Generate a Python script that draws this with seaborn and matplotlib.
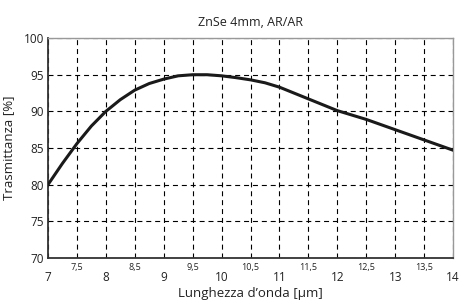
import matplotlib

matplotlib.use("Agg")

import matplotlib.pyplot as plt
import matplotlib.ticker as mticker
import pandas as pd
import seaborn as sns

# Transmission curve (ZnSe 4 mm, AR/AR coated)
wavelength_um = [7.0, 7.25, 7.5, 7.75, 8.0, 8.25, 8.5, 8.75, 9.0, 9.25, 9.5, 9.75,
                 10.0, 10.25, 10.5, 10.75, 11.0, 11.25, 11.5, 11.75, 12.0, 12.25,
                 12.5, 12.75, 13.0, 13.25, 13.5, 13.75, 14.0]
transmittance = [80.0, 82.9, 85.6, 88.0, 90.0, 91.6, 92.9, 93.8, 94.4, 94.85, 95.0, 95.0,
                 94.85, 94.6, 94.3, 93.9, 93.3, 92.5, 91.7, 90.9, 90.1, 89.5,
                 88.9, 88.2, 87.5, 86.8, 86.1, 85.4, 84.7]
y_ticks = [70, 75, 80, 85, 90, 95, 100]

TITLE = "ZnSe 4mm, AR/AR"
XLABEL = "Lunghezza d\u2019onda [\u00b5m]"
YLABEL = "Trasmittanza [%]"

sns.set_style("white")
plt.rcParams["font.family"] = ["Open Sans", "DejaVu Sans"]

frame = pd.DataFrame({"wl": wavelength_um, "T": transmittance})

fig = plt.figure(figsize=(4.6, 3.01), dpi=100)
ax = fig.add_axes([0.1043, 0.143, 0.8807, 0.7305])

sns.lineplot(data=frame, x="wl", y="T", color="#1a1a1a", lw=2.2, ax=ax, zorder=3)

ax.set_xlim(7, 14)
ax.set_ylim(70, 100)
ax.set_yticks(y_ticks)
ax.xaxis.set_major_locator(mticker.MultipleLocator(1))
ax.xaxis.set_minor_locator(mticker.FixedLocator([7.5, 8.5, 9.5, 10.5, 11.5, 12.5, 13.5]))
ax.xaxis.set_minor_formatter(mticker.FuncFormatter(lambda v, _: f"{v:.1f}".replace(".", ",")))

ax.tick_params(axis="x", which="major", length=0, pad=9.5, labelsize=8.5, colors="#222222")
ax.tick_params(axis="x", which="minor", length=0, pad=3.5, labelsize=6.5, colors="#222222")
ax.tick_params(axis="y", length=0, pad=3, labelsize=8.5, colors="#222222")

# dashed grid at every integer and half micron, and every 5 %
grid_kw = dict(color="black", linestyle=(0, (4.5, 3.5)), linewidth=0.8)
ax.grid(True, axis="x", which="both", **grid_kw)
ax.grid(True, axis="y", which="major", **grid_kw)

for side in ("left", "bottom"):
    ax.spines[side].set_color("#333333")
    ax.spines[side].set_linewidth(1.3)
for side in ("top", "right"):
    ax.spines[side].set_color("#999999")
    ax.spines[side].set_linewidth(1.0)

ax.set_title(TITLE, fontsize=9, pad=9, color="#222222")
ax.set_xlabel(XLABEL, fontsize=9.5, labelpad=2, color="#222222")
ax.set_ylabel(YLABEL, fontsize=9.5, labelpad=6, color="#222222")

fig.savefig("out.png", dpi=100, facecolor="white")
plt.close(fig)
